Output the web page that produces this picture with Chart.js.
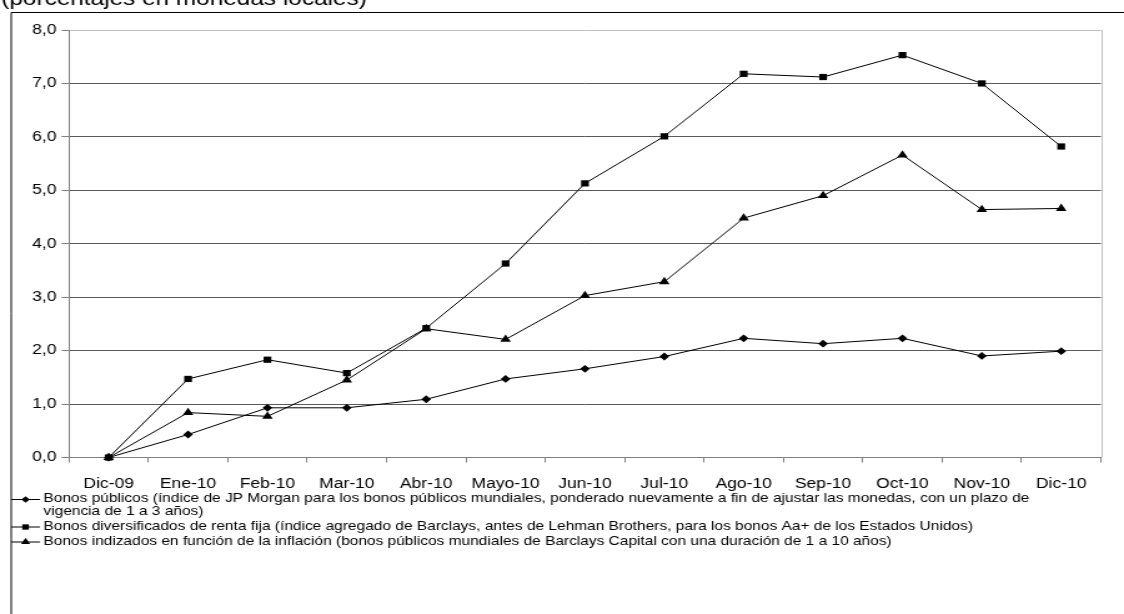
<!DOCTYPE html>
<html>
<head>
<meta charset="utf-8">
<script src="https://cdn.jsdelivr.net/npm/chart.js@4/dist/chart.umd.min.js"></script>
<style>
  html, body { margin: 0; padding: 0; background: #fff; overflow: hidden; }
  /* the drawing surface is stretched horizontally to the page width */
  #marco { width: 900px; height: 614px; transform: scaleX(1.248889); transform-origin: 0 0; }
  #grafico { display: block; }
</style>
</head>
<body>
<div id="marco"><canvas id="grafico" width="900" height="614"></canvas></div>
<script>
// Rendimiento acumulado de los índices de bonos, dic-2009 a dic-2010
const titulo = '(porcentajes en monedas locales)';

const meses = ['Dic-09', 'Ene-10', 'Feb-10', 'Mar-10', 'Abr-10', 'Mayo-10', 'Jun-10',
               'Jul-10', 'Ago-10', 'Sep-10', 'Oct-10', 'Nov-10', 'Dic-10'];

const bonosPublicos       = [0, 0.43, 0.93, 0.93, 1.09, 1.47, 1.66, 1.89, 2.23, 2.13, 2.23, 1.90, 1.99];
const bonosDiversificados = [0, 1.47, 1.83, 1.58, 2.42, 3.63, 5.13, 6.01, 7.18, 7.12, 7.53, 7.00, 5.82];
const bonosIndizados      = [0, 0.84, 0.77, 1.45, 2.41, 2.21, 3.03, 3.29, 4.48, 4.90, 5.66, 4.64, 4.66];

const etiquetasSeries = [
  'Bonos públicos (índice de JP Morgan para los bonos públicos mundiales, ponderado nuevamente a fin de ajustar las monedas, con un plazo de vigencia de 1 a 3 años)',
  'Bonos diversificados de renta fija (índice agregado de Barclays, antes de Lehman Brothers, para los bonos Aa+ de los Estados Unidos)',
  'Bonos indizados en función de la inflación (bonos públicos mundiales de Barclays Capital con una duración de 1 a 10 años)'
];

const etiquetasEjeY = ['0,0', '1,0', '2,0', '3,0', '4,0', '5,0', '6,0', '7,0', '8,0'];

const FUENTE = '"Liberation Sans", Arial, Helvetica, sans-serif';

// frame, title, right border of the plot and the legend underneath
const decoracion = {
  id: 'decoracion',
  beforeDraw(chart) {
    const ctx = chart.ctx;
    ctx.save();
    ctx.fillStyle = '#fff';
    ctx.fillRect(0, 0, chart.width, chart.height);
    ctx.strokeStyle = '#000';
    ctx.lineWidth = 1;
    ctx.beginPath();
    ctx.moveTo(9, chart.height + 5);
    ctx.lineTo(9, 12.5);
    ctx.lineTo(chart.width + 5, 12.5);
    ctx.stroke();
    ctx.fillStyle = '#000';
    ctx.font = '19.5px ' + FUENTE;
    ctx.textBaseline = 'alphabetic';
    ctx.textAlign = 'left';
    ctx.fillText(titulo, 1, 5);
    ctx.restore();
  },
  afterDraw(chart) {
    const ctx = chart.ctx;
    const a = chart.chartArea;
    ctx.save();
    ctx.strokeStyle = '#c0c0c0';
    ctx.lineWidth = 1;
    ctx.beginPath();
    ctx.moveTo(Math.round(a.right) + 0.5, a.top);
    ctx.lineTo(Math.round(a.right) + 0.5, a.bottom);
    ctx.stroke();

    // legend
    ctx.font = '12.4px ' + FUENTE;
    ctx.textBaseline = 'middle';
    ctx.textAlign = 'left';
    const xTexto = 34.8, anchoMax = 815, alto = 12.5, separacion = 2.5;
    let y = 499;
    chart.data.datasets.forEach(ds => {
      const palabras = ds.label.split(' ');
      const lineas = [];
      let actual = '';
      palabras.forEach(p => {
        const prueba = actual ? actual + ' ' + p : p;
        if (ctx.measureText(prueba).width > anchoMax && actual) {
          lineas.push(actual);
          actual = p;
        } else {
          actual = prueba;
        }
      });
      lineas.push(actual);

      ctx.strokeStyle = ds.borderColor;
      ctx.lineWidth = 1;
      ctx.beginPath();
      ctx.moveTo(9, y + 0.5);
      ctx.lineTo(32, y + 0.5);
      ctx.stroke();
      ctx.fillStyle = ds.pointBackgroundColor;
      Chart.helpers.drawPoint(ctx, {
        pointStyle: ds.pointStyle, radius: ds.pointRadius * 0.85, rotation: 0, borderWidth: 0
      }, 20.5, y + 0.5);

      ctx.fillStyle = '#000';
      lineas.forEach((l, i) => ctx.fillText(l, xTexto, y + i * alto));
      y += lineas.length * alto + separacion;
    });
    ctx.restore();
  }
};

const serie = (label, data, estilo, radio, orden) => ({
  label, data,
  order: orden,
  clip: false,
  borderColor: '#000',
  borderWidth: 1,
  pointStyle: estilo,
  pointRadius: radio,
  pointHoverRadius: radio,
  pointBackgroundColor: '#000',
  pointBorderColor: '#000',
  pointBorderWidth: 0,
  tension: 0,
  fill: false
});

new Chart(document.getElementById('grafico'), {
  type: 'line',
  data: {
    labels: meses,
    datasets: [
      serie(etiquetasSeries[0], bonosPublicos, 'rectRot', 3.9, 2),
      serie(etiquetasSeries[1], bonosDiversificados, 'rect', 4.4, 0),
      serie(etiquetasSeries[2], bonosIndizados, 'triangle', 4.9, 1)
    ]
  },
  options: {
    responsive: false,
    animation: false,
    events: [],
    layout: { padding: { top: 30, right: 18.5, left: 0, bottom: 0 } },
    plugins: {
      legend: { display: false },
      title: { display: false },
      tooltip: { enabled: false }
    },
    scales: {
      x: {
        type: 'category',
        offset: true,
        grid: {
          offset: true,
          drawOnChartArea: false,
          drawTicks: true,
          tickLength: 5,
          tickColor: '#808080'
        },
        border: { display: true, color: '#808080', width: 1 },
        ticks: {
          color: '#000',
          font: { family: FUENTE, size: 14 },
          padding: 13,
          maxRotation: 0,
          autoSkip: false
        },
        afterFit(s) { s.height = 614 - 457.5; }
      },
      y: {
        min: 0,
        max: 8,
        grid: {
          color: c => (c.tick && c.tick.value === 8) ? '#c0c0c0' : '#5a5a5a',
          tickColor: '#808080',
          tickLength: 6,
          lineWidth: 1
        },
        border: { display: true, color: '#808080', width: 1 },
        ticks: {
          stepSize: 1,
          color: '#000',
          font: { family: FUENTE, size: 14 },
          padding: 4,
          callback: (v, i) => etiquetasEjeY[i]
        },
        afterFit(s) { s.width = 55.25; }
      }
    }
  },
  plugins: [decoracion]
});
</script>
</body>
</html>
